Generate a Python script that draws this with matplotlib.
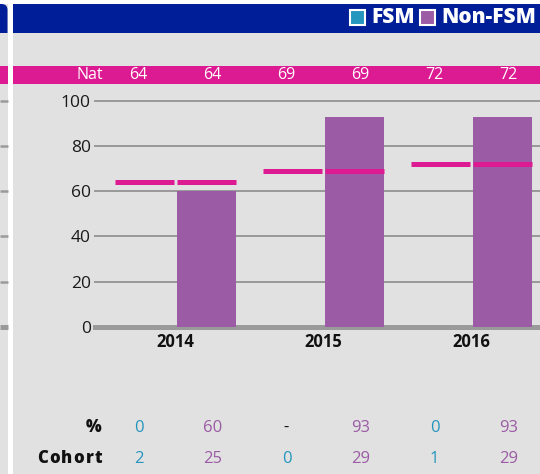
import matplotlib
matplotlib.use('Agg')
import matplotlib.pyplot as plt
from matplotlib import transforms
from matplotlib.patches import Rectangle, FancyBboxPatch
from matplotlib.lines import Line2D

plt.rcParams['font.family'] = ['Open Sans', 'DejaVu Sans']

# data
years = ['2014', '2015', '2016']
fsm_pct = [0, None, 0]
nonfsm_pct = [60, 93, 93]
fsm_cohort = [2, 0, 1]
nonfsm_cohort = [25, 29, 29]
nat_fsm = [64, 69, 72]
nat_nonfsm = [64, 69, 72]

blue = '#001e98'
pink = '#dc1a92'
teal = '#2596be'
purple = '#9b5ba5'
bg = '#e1e1e1'
grid = '#9a9a9a'

W, H = 540, 474
fig = plt.figure(figsize=(W / 100, H / 100), dpi=100)
fig.patch.set_facecolor('white')
# pixel coords, origin top-left
px = transforms.Affine2D().scale(1 / W, -1 / H).translate(0, 1) + fig.transFigure

def rect(x0, y0, x1, y1, color, **kw):
    fig.patches.append(Rectangle((x0, y0), x1 - x0, y1 - y0, transform=px,
                                 facecolor=color, edgecolor='none', zorder=-2, **kw))

# panel backgrounds
rect(0, 4, 7.5, H, bg)
rect(12.7, 33.3, W, H, bg)
fig.patches.append(FancyBboxPatch((-20, 4), 27.5, 40, boxstyle='round,pad=0,rounding_size=6',
                                  transform=px, facecolor=blue, edgecolor='none', zorder=-2))
rect(0, 33.3, 7.5, 60, bg)
rect(12.7, 4, W, 33.3, blue)
rect(0, 65.7, 7.5, 84.3, pink)
rect(12.7, 65.7, W, 84.3, pink)

# legend in header
for x0, col, lab in [(350, teal, 'FSM'), (420, purple, 'Non-FSM')]:
    fig.patches.append(Rectangle((x0, 10), 15, 15, transform=px, facecolor=col,
                                 edgecolor='white', linewidth=1.5))
    fig.text(x0 + 21.5, 17.5, lab, transform=px, color='white', fontsize=15,
             fontweight='heavy', ha='left', va='center')

# main axes
y0_px, y100_px = 326.7, 101
bottom = (H - y0_px) / H
height = (y0_px - y100_px) / H
ax = fig.add_axes([95 / W, bottom, 445 / W, height])
ax.set_facecolor('none')
ax.set_xlim(-0.544, 2.463)
ax.set_ylim(0, 100)
for s in ax.spines.values():
    s.set_visible(False)
ax.set_xticks([])
ax.set_yticks(range(0, 101, 20))
ax.tick_params(axis='y', length=0, pad=3, labelsize=12.5, labelcolor='#1a1a1a')

for v in range(20, 101, 20):
    ax.axhline(v, color=grid, lw=1.44, clip_on=False, zorder=1)
ax.axhline(0, color=grid, lw=3.6, clip_on=False, zorder=1)

# stubs of the neighbouring panel's gridlines
stub = transforms.blended_transform_factory(px, ax.transData)
for v in range(0, 101, 20):
    fig.lines.append(Line2D([0, 7.5], [v, v], transform=stub, color=grid,
                            lw=3.6 if v == 0 else 1.8, solid_capstyle='butt'))

off = 0.2095
bw = 0.4
xs = list(range(len(years)))
ax.bar([x - off for x in xs], [v or 0 for v in fsm_pct], width=bw, color=teal, zorder=2)
ax.bar([x + off for x in xs], nonfsm_pct, width=bw, color=purple, zorder=2)

for x, nf, nn in zip(xs, nat_fsm, nat_nonfsm):
    ax.plot([x - off - bw / 2, x - off + bw / 2], [nf, nf], color=pink, lw=3.6,
            solid_capstyle='butt', zorder=3)
    ax.plot([x + off - bw / 2, x + off + bw / 2], [nn, nn], color=pink, lw=3.6,
            solid_capstyle='butt', zorder=3)

row = transforms.blended_transform_factory(ax.transData, px)
for x, y in zip(xs, years):
    ax.text(x, 342, y, transform=row, ha='center', va='center', fontsize=12,
            fontweight='bold', color='#111111')

# nat row and table rows
fig.text(103, 75, 'Nat', transform=px, ha='right', va='center', fontsize=11.5, color='white')
fig.text(102, 428, '%', transform=px, ha='right', va='center', fontsize=12,
         fontweight='heavy', color='#111111')
# letter-spaced label
label = 'Cohort'
cx = 102
for ch in reversed(label):
    t = fig.text(cx, 459, ch, transform=px, ha='right', va='center', fontsize=12,
                 fontweight='heavy', color='#111111')
    cx -= t.get_window_extent(fig.canvas.get_renderer()).width + 1.1
for x in xs:
    i = x
    ax.text(x - 0.25, 75, str(nat_fsm[i]), transform=row, ha='center', va='center',
            fontsize=11.5, color='white')
    ax.text(x + 0.25, 75, str(nat_nonfsm[i]), transform=row, ha='center', va='center',
            fontsize=11.5, color='white')
    if fsm_pct[i] is None:
        ax.text(x - 0.25, 428, '-', transform=row, ha='center', va='center',
                fontsize=12, color='#111111')
    else:
        ax.text(x - 0.25, 428, str(fsm_pct[i]), transform=row, ha='center', va='center',
                fontsize=12, color=teal)
    ax.text(x + 0.25, 428, str(nonfsm_pct[i]), transform=row, ha='center', va='center',
            fontsize=12, color=purple)
    ax.text(x - 0.25, 459, str(fsm_cohort[i]), transform=row, ha='center', va='center',
            fontsize=12, color=teal)
    ax.text(x + 0.25, 459, str(nonfsm_cohort[i]), transform=row, ha='center', va='center',
            fontsize=12, color=purple)

fig.savefig('out.png', dpi=100, facecolor=fig.get_facecolor())
